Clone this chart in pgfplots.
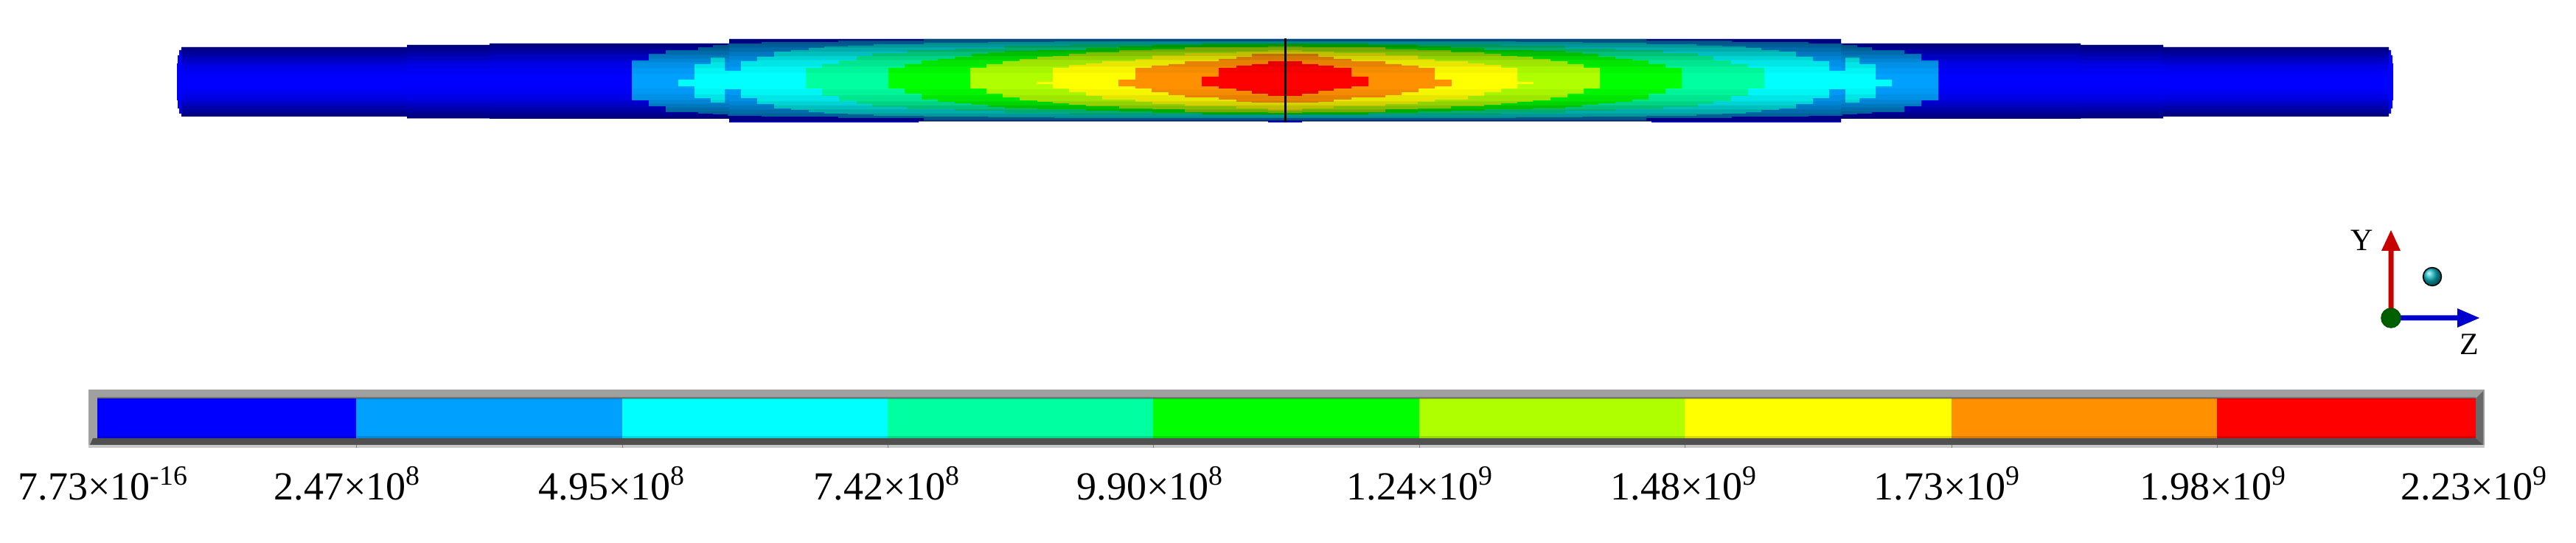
\documentclass[border=0pt]{standalone}
\usepackage{pgfplots}
\pgfplotsset{compat=1.18}
\usepackage{fontspec}
\setmainfont{Liberation Serif}

\definecolor{c1}{RGB}{0,0,255}
\definecolor{c2}{RGB}{0,160,255}
\definecolor{c3}{RGB}{0,255,255}
\definecolor{c4}{RGB}{0,255,160}
\definecolor{c5}{RGB}{0,255,0}
\definecolor{c6}{RGB}{175,255,0}
\definecolor{c7}{RGB}{255,255,0}
\definecolor{c8}{RGB}{255,145,0}
\definecolor{c9}{RGB}{255,0,0}

% stepped band, mirrored about x=1743. rows are x/top/bottom for the left half
\newcommand\band[2]{%
  \gdef\TL{}\gdef\TR{}\gdef\BR{}\gdef\BL{}\gdef\pt{}\gdef\pb{}%
  \foreach \xa/\ya/\yb in {#2}{%
    \ifx\pt\empty\xdef\pt{\ya}\xdef\pb{\yb}\fi
    \pgfmathsetmacro\xm{3486-\xa}%
    \xdef\TL{\TL(\xa,\pt)(\xa,\ya)}%
    \xdef\TR{(\xm,\ya)(\xm,\pt)\TR}%
    \xdef\BR{\BR(\xm,\pb)(\xm,\yb)}%
    \xdef\BL{(\xa,\yb)(\xa,\pb)\BL}%
    \xdef\pt{\ya}\xdef\pb{\yb}%
  }%
  \edef\next{\noexpand\addplot[#1,draw=none,forget plot] coordinates {\TL\TR\BR\BL} --cycle;}\next
}
% darkening towards the tube wall, f = share of the radius left clear
\newcommand\shell[2]{%
  \pgfmathsetmacro\ia{64+(1-#1)*47}\pgfmathsetmacro\ib{61+(1-#1)*50}%
  \pgfmathsetmacro\ic{59+(1-#1)*51}\pgfmathsetmacro\id{53+(1-#1)*57}%
  \band{fill=black,fill opacity=#2}{246/64/\ia,552/61/\ib,664/59/\ic,989/53/\id,1743/53/\id}%
  \pgfmathsetmacro\ia{158-(1-#1)*47}\pgfmathsetmacro\ib{160.5-(1-#1)*50}%
  \pgfmathsetmacro\ic{161-(1-#1)*51}\pgfmathsetmacro\id{165-(1-#1)*55}%
  \band{fill=black,fill opacity=#2}{246/\ia/158,552/\ib/160.5,664/\ic/161,989/\id/165,1743/\id/165}%
}
\newcommand\lab[2]{\node[anchor=base west,inner sep=0pt,font=\fontsize{13.5}{16}\selectfont] at (axis cs:#1,678) {#2};}

\begin{document}
\begin{tikzpicture}
\useasboundingbox (0,0) rectangle (873.5pt,184pt);
\begin{axis}[
  at={(0,0)}, anchor=south west,
  scale only axis, width=873.5pt, height=184pt,
  xmin=0, xmax=3494, ymin=0, ymax=736,
  y dir=reverse, hide axis, clip=false,
  unbounded coords=jump,
]
  % tube
  \band{fill=c1}{240/86/136,241/75/147,243/68/154,246/64/158,552/61/160.5,664/59/161,989/53/166,1246/53/164,1720/53/166,1743/53/166}
  \band{fill=c2}{857/82/136,880/73/144,903/68/152,947/64/154,967/61/155,987/59/157,1033/57/158,1137/55/160,1253/53/163.5,1743/53/163.5}
  \band{fill=c3}{920/108/117,942/87/133,964/78/139,983/96/121,1005/83/133,1027/77/141,1050/70/147,1073/68/149,1097/65/152,1118/63/154,1150/62/155,1185/60/157,1253/58/158,1340/57/159,1430/56/160,1743/55/161}
  \band{fill=c4}{1093/92/120,1115/87/130,1138/82/137,1162/76/141,1183/72/145,1230/68/148,1295/66/150,1363/62/153,1450/60/155,1630/58/156,1743/57/157}
  \band{fill=c5}{1205/92/120,1227/87/127,1250/82/135,1272/80/138,1295/77/140,1318/73/142,1340/71/145,1363/69/147,1407/68/148,1473/65/150,1518/63/151,1563/61/153,1630/60/155,1743/58/156}
  \band{fill=c6}{1316/92/120,1338/87/127,1360/83/132,1383/80/136,1407/77/138,1428/76/140,1450/73/142,1473/71/144,1518/68/147,1563/67/148,1607/64/152,1720/63/153,1743/62/153}
  \band{fill=c7}{1406/111/114,1428/92/120,1450/88/125,1473/86/130,1495/83/135,1540/80/138,1563/75/141,1607/72/144,1677/70/147,1720/68/150,1743/67/151}
  \band{fill=c8}{1517/108/117,1540/92/120,1562/89/125,1585/87/129,1607/83/132,1653/80/135,1677/77/138,1698/73/139,1743/72/140}
  \band{fill=c9}{1630/104/117,1653/92/120,1677/89/123,1698/87/127,1720/83/130,1743/83/130}
  \shell{.20}{.04}
  \shell{.35}{.06}
  \shell{.50}{.08}
  \shell{.60}{.09}
  \shell{.70}{.10}
  \shell{.80}{.11}
  \shell{.87}{.08}
  \shell{.93}{.08}
  \shell{.97}{.08}
  \addplot[black,line width=.75pt,forget plot] coordinates {(1743,52)(1743,166)};

  % colour scale, frame first
  \addplot[fill={rgb,255:red,160;green,160;blue,160},draw=none,forget plot] coordinates {(120,528)(3370,528)(3370,607)(120,607)} --cycle;
  \addplot[fill={rgb,255:red,200;green,200;blue,200},draw=none,forget plot] coordinates {(120,603)(3370,603)(3370,607)(120,607)} --cycle;
  \addplot[fill={rgb,255:red,80;green,80;blue,80},draw=none,forget plot] coordinates {(126,594)(3364,594)(3368,603)(122,603)} --cycle;
  \addplot[fill={rgb,255:red,105;green,105;blue,105},draw=none,forget plot] coordinates {(3358,540)(3368,530)(3368,603)(3358,594)} --cycle;
  \addplot[fill=c1,draw=none,forget plot] coordinates {(132,540)(483,540)(483,594)(132,594)} --cycle;
  \addplot[fill=c2,draw=none,forget plot] coordinates {(483,540)(844,540)(844,594)(483,594)} --cycle;
  \addplot[fill=c3,draw=none,forget plot] coordinates {(844,540)(1204,540)(1204,594)(844,594)} --cycle;
  \addplot[fill=c4,draw=none,forget plot] coordinates {(1204,540)(1564,540)(1564,594)(1204,594)} --cycle;
  \addplot[fill=c5,draw=none,forget plot] coordinates {(1564,540)(1925,540)(1925,594)(1564,594)} --cycle;
  \addplot[fill=c6,draw=none,forget plot] coordinates {(1925,540)(2285,540)(2285,594)(1925,594)} --cycle;
  \addplot[fill=c7,draw=none,forget plot] coordinates {(2285,540)(2647,540)(2647,594)(2285,594)} --cycle;
  \addplot[fill=c8,draw=none,forget plot] coordinates {(2647,540)(3007,540)(3007,594)(2647,594)} --cycle;
  \addplot[fill=c9,draw=none,forget plot] coordinates {(3007,540)(3358,540)(3358,594)(3007,594)} --cycle;
  \addplot[fill=black,fill opacity=.15,draw=none,forget plot] coordinates {(132,591)(3358,591)(3358,594)(132,594)} --cycle;
  \addplot[fill=black,fill opacity=.25,draw=none,forget plot] coordinates {(132,538)(3358,538)(3358,541)(132,541)} --cycle;
  % little ticks under the frame
  \addplot[gray,line width=.25pt,forget plot] coordinates {(483,603)(483,607)(483,nan)(844,603)(844,607)(844,nan)(1204,603)(1204,607)(1204,nan)(1564,603)(1564,607)(1564,nan)(1925,603)(1925,607)(1925,nan)(2285,603)(2285,607)(2285,nan)(2647,603)(2647,607)(2647,nan)(3007,603)(3007,607)};

  \lab{24}{7.73×10\textsuperscript{-16}}
  \lab{371}{2.47×10\textsuperscript{8}}
  \lab{730}{4.95×10\textsuperscript{8}}
  \lab{1103}{7.42×10\textsuperscript{8}}
  \lab{1460}{9.90×10\textsuperscript{8}}
  \lab{1826}{1.24×10\textsuperscript{9}}
  \lab{2184}{1.48×10\textsuperscript{9}}
  \lab{2541}{1.73×10\textsuperscript{9}}
  \lab{2902}{1.98×10\textsuperscript{9}}
  \lab{3256}{2.23×10\textsuperscript{9}}

  % orientation triad
  \addplot[fill={rgb,255:red,200;green,0;blue,0},draw=none,forget plot] coordinates {(3239.5,431)(3239.5,340)(3230,340)(3243,312)(3256,340)(3246.5,340)(3246.5,431)} --cycle;
  \addplot[fill={rgb,255:red,0;green,0;blue,205},draw=none,forget plot] coordinates {(3243,427.5)(3333,427.5)(3333,418)(3363,431)(3333,444)(3333,434.5)(3243,434.5)} --cycle;
  \addplot[only marks,mark=*,mark options={draw={rgb,255:red,0;green,85;blue,0},fill={rgb,255:red,0;green,95;blue,0}},mark size=3.25pt,forget plot] coordinates {(3243,431)};
  \addplot[only marks,mark=ball,ball color={rgb,255:red,10;green,180;blue,190},mark size=3.1pt,forget plot] coordinates {(3299,375)};
  \node[anchor=base,inner sep=0pt,font=\fontsize{10.5}{12}\selectfont] at (axis cs:3204,340) {Y};
  \node[anchor=base,inner sep=0pt,font=\fontsize{10.5}{12}\selectfont] at (axis cs:3349,481) {Z};
\end{axis}
\end{tikzpicture}
\end{document}
